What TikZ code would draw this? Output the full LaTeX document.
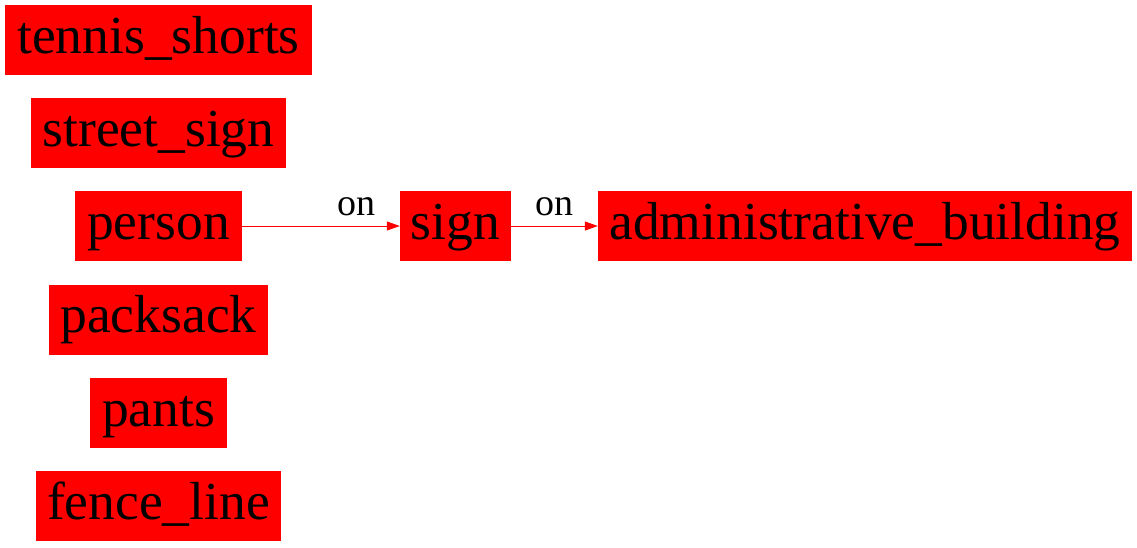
\documentclass[tikz,border=0pt]{standalone}
\usepackage{fontspec}
\setmainfont{Liberation Serif}
\usetikzlibrary{arrows.meta}
\tikzset{
  obj/.style={fill=red, draw=none, inner sep=0pt, text=black,
    font=\fontsize{53.5}{60}\selectfont, text height=38pt, text depth=12pt,
    minimum height=70pt},
  rel/.style={draw=red, line width=1pt, -{Triangle[length=13pt,width=9pt,fill=red]}},
  lbl/.style={font=\fontsize{38}{44}\selectfont, inner sep=0pt, anchor=base}
}
\begin{document}
\begin{tikzpicture}[x=1pt,y=-1pt]
\useasboundingbox (0,0) rectangle (1137,547);
\node[obj, minimum width=307pt] (ts) at (158.5,40) {tennis\_shorts};
\node[obj, minimum width=255pt] (ss) at (158.5,133) {street\_sign};
\node[obj, minimum width=167pt] (person) at (158.5,226) {person};
\node[obj, minimum width=219pt] (pack) at (158.5,319.5) {packsack};
\node[obj, minimum width=137pt] (pants) at (158.5,413) {pants};
\node[obj, minimum width=245pt] (fence) at (158.5,506) {fence\_line};
\node[obj, minimum width=111pt] (sign) at (455.5,226) {sign};
\node[obj, minimum width=534pt] (admin) at (865,226) {administrative\_building};
\draw[rel] (person) -- (sign);
\draw[rel] (sign) -- (admin);
\node[lbl] (l1) at (356,215) {on};
\node[lbl] (l2) at (554,215) {on};
\end{tikzpicture}
\end{document}
